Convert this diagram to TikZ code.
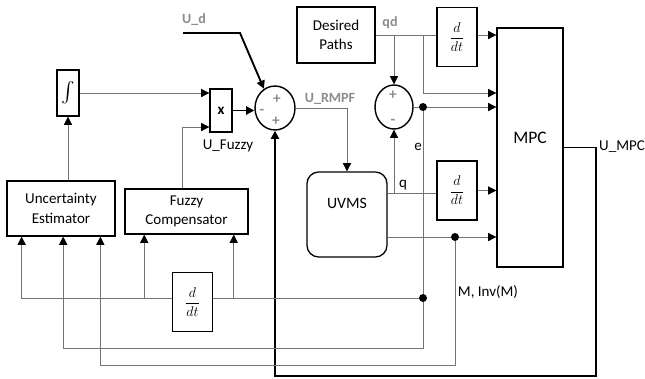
\documentclass[tikz,border=0pt]{standalone}
\usepackage{fontspec}
\setmainfont{Carlito}
\usepackage{amsmath}
\usetikzlibrary{arrows.meta, positioning, calc, shapes.geometric}

\begin{document}
\begin{tikzpicture}[
        x=0.03cm, y=-0.03cm,
        font=\fontsize{12.8}{14}\selectfont,
        block/.style={rectangle, draw, line width=1.1pt, align=center, inner sep=1pt, font=\fontsize{12.8}{16.5}\selectfont},
        ddt/.style={block, minimum width=1.2cm, minimum height=1.77cm},
        summ/.style={ellipse, draw, line width=1.2pt, minimum width=1.2cm, minimum height=1.32cm, inner sep=0pt},
        sig/.style={draw=black!55, line width=0.6pt},
        thk/.style={draw=black, line width=1.6pt},
        tip/.style={-{Triangle[length=7pt, width=7pt, color=black]}},
        dot/.style={circle, fill=black, inner sep=0pt, minimum size=0.24cm},
        sgn/.style={text=black!45, font=\fontsize{13}{13}\selectfont\bfseries, inner sep=0pt},
        glab/.style={text=black!45, font=\fontsize{12}{14}\selectfont\bfseries}
    ]
    \useasboundingbox (0,0) rectangle (645,378);

    % blocks
    \node[block, minimum width=0.66cm, minimum height=1.38cm, font=\fontsize{18}{18}\selectfont] (integ) at (68,93) {$\int$};
    \node[block, minimum width=0.66cm, minimum height=1.29cm] (mult) at (221,110.5) {\textbf{x}};
    \node[summ] (sum1) at (275,108) {};
    \node[block, minimum width=3.24cm, minimum height=1.65cm] (est) at (61,208.5) {Uncertainty\\Estimator};
    \node[block, minimum width=3.69cm, minimum height=1.35cm] (fuzzy) at (186.5,211.5) {Fuzzy\\Compensator};
    \node[ddt] (ddte) at (192.5,302) {$\dfrac{d}{dt}$};
    \node[block, minimum width=2.34cm, minimum height=1.68cm] (paths) at (336,35) {Desired\\Paths};
    \node[ddt] (ddtqd) at (457,37) {$\dfrac{d}{dt}$};
    \node[summ, minimum width=1.14cm] (sum2) at (394,107) {};
    \node[block, rounded corners=0.35cm, minimum width=2.4cm, minimum height=2.55cm, font=\fontsize{13.5}{19}\selectfont] (uvms) at (347,214.5) {UVMS\\\mbox{}};
    \node[ddt] (ddtq) at (457,190.5) {$\dfrac{d}{dt}$};
    \node[block, minimum width=1.98cm, minimum height=7.17cm, font=\fontsize{15}{16}\selectfont] (mpc) at (530,147.5) {MPC\\\mbox{}};

    % signs
    \node[sgn] (s1a) at (277,99) {+};
    \node[sgn] (s1b) at (262,112) {-};
    \node[sgn] (s1c) at (276,121) {+};
    \node[sgn] (s2a) at (393,95) {+};
    \node[sgn] (s2b) at (393,122) {-};

    % labels
    \node[glab] (lud) at (194,20) {U\_d};
    \node (lfuzzy) at (228,146) {U\_Fuzzy};
    \node[glab] (lrmpf) at (330,99) {U\_RMPF};
    \node[glab] (lqd) at (390,23) {qd};
    \node (le) at (418,147) {e};
    \node (lq) at (403,185) {q};
    \node[anchor=west, inner sep=0pt] (lmpc) at (599,147) {U\_MPC};
    \node (lminv) at (488,292) {M, Inv(M)};

    % helper points
    \coordinate (qdrow) at (0,35);
    \coordinate (qrow) at (0,193);
    \coordinate (mrow) at (0,237);
    \coordinate (rowa) at (0,298);
    \coordinate (rowb) at (0,348);
    \coordinate (rowc) at (0,365);
    \coordinate (ein1) at ($(est.south west)!0.14!(est.south east)$);
    \coordinate (ein2) at ($(est.south west)!0.52!(est.south east)$);
    \coordinate (ein3) at ($(est.south west)!0.86!(est.south east)$);
    \coordinate (fin1) at ($(fuzzy.south west)!0.16!(fuzzy.south east)$);
    \coordinate (fin2) at ($(fuzzy.south west)!0.88!(fuzzy.south east)$);
    \coordinate (fzup) at (182,127);
    \coordinate (qdb) at (423,93);
    \coordinate (ud) at (183,33);
    \coordinate (loopr) at (596,376);
    \node[dot] (de) at (423,107) {};
    \node[dot] (de2) at (423,298) {};
    \node[dot] (dm) at (455,237) {};

    % integrator and product
    \draw[sig, tip] (est.north -| integ) -- (integ.south);
    \draw[sig, tip] (integ.east) -- (integ.east -| mult.west);
    \draw[sig, tip] (fzup |- fuzzy.north) -- (fzup) -- (fzup -| mult.west);
    \draw[thk, tip] (mult.east) -- (mult.east -| sum1.west);
    \draw[thk, tip] (ud) -- ++(57,0) -- (sum1.120);
    \draw[sig, tip] (sum1.east) -| (uvms.north);

    % MPC feedback loop
    \draw[thk, tip] (mpc.east) -| (loopr) -| (sum1.south);

    % desired path
    \draw[sig] (paths.east |- qdrow) -- (ddtqd.west |- qdrow);
    \draw[sig, tip] (ddtqd.east |- qdrow) -- (mpc.west |- qdrow);
    \draw[sig, tip] (sum2.north |- qdrow) -- (sum2.north);
    \draw[sig, tip] (qdb |- qdrow) -- (qdb) -- (qdb -| mpc.west);

    % tracking error
    \draw[sig] (sum2.east) -- (de);
    \draw[sig, tip] (de) -- (de -| mpc.west);
    \draw[sig] (de) -- (de2) -- (ddte.east |- de2);
    \draw[sig, tip] (de2) -- (de2 |- rowb) -| (ein2);
    \draw[sig, tip] (fin2 |- de2) -- (fin2);
    \draw[sig, tip] (ddte.west |- de2) -| (ein1);
    \draw[sig, tip] (fin1 |- de2) -- (fin1);

    % manipulator outputs
    \draw[sig] (uvms.east |- qrow) -- (ddtq.west |- qrow);
    \draw[sig, tip] (sum2.south |- qrow) -- (sum2.south);
    \draw[sig, tip] (ddtq.east) -- (ddtq.east -| mpc.west);
    \draw[sig] (uvms.east |- mrow) -- (dm);
    \draw[sig, tip] (dm) -- (dm -| mpc.west);
    \draw[sig, tip] (dm) -- (dm |- rowc) -| (ein3);
\end{tikzpicture}
\end{document}
